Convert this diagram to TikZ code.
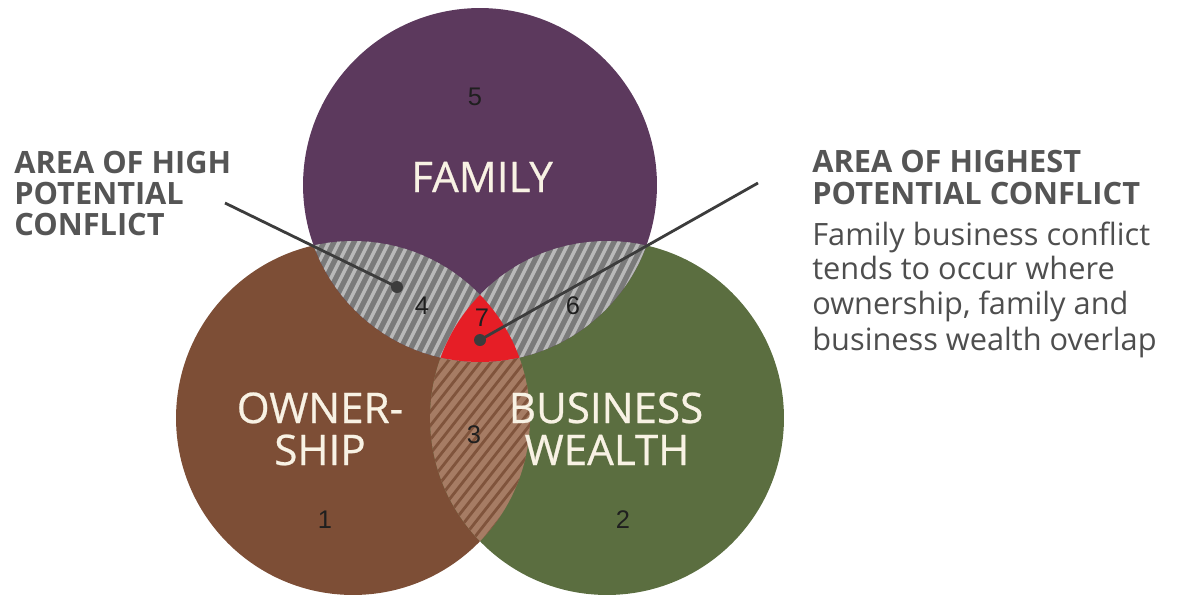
\documentclass[tikz,border=0pt]{standalone}
\usepackage{fontspec}
\setmainfont{Open Sans}
\newfontfamily\numfont{Liberation Sans}
\newfontfamily\vennfont[FakeBold=0.6]{Open Sans}
\definecolor{famc}{RGB}{92,57,93}
\definecolor{ownc}{RGB}{125,78,54}
\definecolor{busc}{RGB}{91,110,64}
\definecolor{hgray}{RGB}{122,122,122}
\definecolor{hstripe}{RGB}{185,185,185}
\definecolor{tbase}{RGB}{166,124,100}
\definecolor{tstripe}{RGB}{128,84,60}
\definecolor{redc}{RGB}{230,30,38}
\definecolor{leadc}{RGB}{60,60,60}
\definecolor{labc}{RGB}{85,85,85}
\definecolor{bodyc}{RGB}{78,78,78}
\definecolor{venntext}{RGB}{248,242,228}
\tikzset{
  vennlabel/.style={font=\vennfont\fontsize{24}{28}\selectfont, text=venntext, anchor=base, inner sep=0pt},
  numlabel/.style={font=\numfont\fontsize{14.5}{16}\selectfont, text=black!88, inner sep=0pt},
  boldlab/.style={font=\bfseries\fontsize{17.5}{20}\selectfont, text=labc, anchor=base west, inner sep=0pt},
  bodylab/.style={font=\fontsize{17.5}{20}\selectfont, text=bodyc, anchor=base west, inner sep=0pt},
  leader/.style={draw=leadc, line width=1.6pt},
  leaddot/.style={circle, fill=leadc, minimum size=0.24cm, inner sep=0pt},
  graystripe/.style={draw=hstripe, line width=2pt},
  brownstripe/.style={draw=tstripe, line width=1.6pt}
}
\begin{document}
\begin{tikzpicture}[x=0.02cm,y=-0.02cm]
\useasboundingbox (0,0) rectangle (1177,596);
\coordinate (F) at (480,185);
\coordinate (O) at (353,418);
\coordinate (B) at (607,418);
\def\R{3.54cm}
% base circles
\fill[ownc] (O) circle[radius=\R];
\fill[busc] (B) circle[radius=\R];
\fill[famc] (F) circle[radius=\R];
% region 3: ownership and business
\begin{scope}
  \clip (O) circle[radius=\R];
  \clip (B) circle[radius=\R];
  \fill[tbase] (300,250) rectangle (660,560);
  \foreach \x in {100,111,...,700} \draw[brownstripe] (\x,580) -- ++(330,-420);
\end{scope}
% region 4: family and ownership
\begin{scope}
  \clip (F) circle[radius=\R];
  \clip (O) circle[radius=\R];
  \fill[hgray] (280,200) rectangle (700,400);
  \foreach \x in {150,160,...,700} \draw[graystripe] (\x,400) -- ++(110,-220);
\end{scope}
% region 6: family and business
\begin{scope}
  \clip (F) circle[radius=\R];
  \clip (B) circle[radius=\R];
  \fill[hgray] (280,200) rectangle (700,400);
  \foreach \x in {150,160,...,800} \draw[graystripe] (\x,400) -- ++(110,-220);
\end{scope}
% region 7: all three
\begin{scope}
  \clip (F) circle[radius=\R];
  \clip (O) circle[radius=\R];
  \fill[redc] (B) circle[radius=\R];
\end{scope}
% circle titles
\node[vennlabel] (tfam) at (482,192) {FAMILY};
\node[vennlabel] (town1) at (320,423) {OWNER-};
\node[vennlabel] (town2) at (320,465) {SHIP};
\node[vennlabel] (tbus1) at (606,423) {BUSINESS};
\node[vennlabel] (tbus2) at (607,465) {WEALTH};
% numbers
\node[numlabel] (n5) at (475,97) {5};
\node[numlabel] (n4) at (422,306) {4};
\node[numlabel] (n7) at (482,318) {7};
\node[numlabel] (n6) at (573,306) {6};
\node[numlabel] (n3) at (474,435) {3};
\node[numlabel] (n1) at (325,520) {1};
\node[numlabel] (n2) at (623,520) {2};
% leader lines
\coordinate (lstart) at (225,203);
\coordinate (rstart) at (758,183);
\node[leaddot] (dl) at (397,287) {};
\node[leaddot] (dr) at (480,340) {};
\draw[leader] (lstart) -- (dl.center);
\draw[leader] (rstart) -- (dr.center);
% left label
\node[boldlab] (la) at (14,173) {AREA OF HIGH};
\node[boldlab] (lb) at (14,204) {POTENTIAL};
\node[boldlab] (lc) at (14,235) {CONFLICT};
% right label
\node[boldlab] (ra) at (812,172) {AREA OF HIGHEST};
\node[boldlab] (rb) at (812,204) {POTENTIAL CONFLICT};
\node[bodylab] (rc) at (812,245) {Family business conflict};
\node[bodylab] (rd) at (812,279) {tends to occur where};
\node[bodylab] (re) at (812,314) {ownership, family and};
\node[bodylab] (rf) at (812,350) {business wealth overlap};
\end{tikzpicture}
\end{document}
